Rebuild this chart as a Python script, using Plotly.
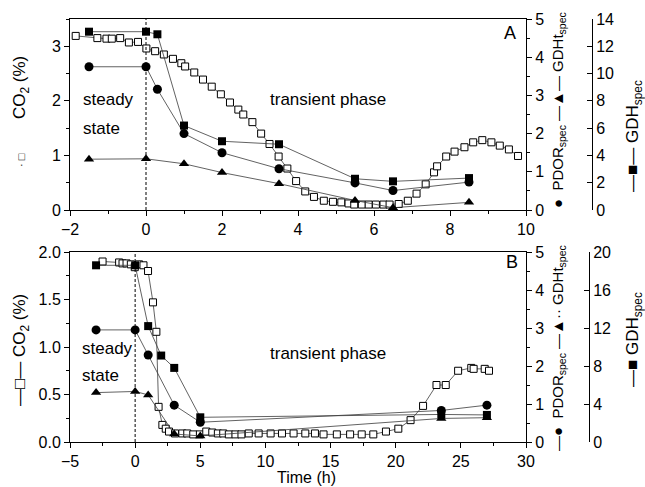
import plotly.graph_objects as go

# ---------------- Panel A (upper) ----------------
t_co2_a = [-1.85, -1.28, -1.04, -0.90, -0.68, -0.45, -0.21, 0.01, 0.24, 0.47, 0.71, 0.93,
           1.03, 1.27, 1.50, 1.73, 1.97, 2.21, 2.43, 2.56, 2.80, 3.03, 3.25, 3.49, 3.72,
           3.95, 4.19, 4.42, 4.68, 4.92, 5.14, 5.33, 5.48, 5.68, 5.86, 6.05, 6.25, 6.41,
           6.65, 6.89, 7.12, 7.36, 7.58, 7.66, 7.90, 8.12, 8.38, 8.61, 8.85, 9.09, 9.31,
           9.55, 9.79]
co2_a = [3.19, 3.15, 3.14, 3.14, 3.15, 3.07, 3.08, 2.96, 2.91, 2.85, 2.77, 2.69,
         2.63, 2.52, 2.39, 2.26, 2.12, 1.97, 1.84, 1.75, 1.61, 1.40, 1.21, 0.98, 0.76,
         0.53, 0.34, 0.24, 0.17, 0.15, 0.14, 0.12, 0.10, 0.10, 0.10, 0.10, 0.10, 0.10,
         0.11, 0.17, 0.30, 0.47, 0.69, 0.80, 0.98, 1.07, 1.15, 1.24, 1.28, 1.24, 1.18,
         1.11, 0.99]

t_gdh_a = [-1.5, 0, 0.3, 1, 2, 3.5, 5.5, 6.5, 8.5]
gdh_a = [13.07, 13.07, 12.88, 6.19, 5.04, 4.82, 2.29, 2.10, 2.34]

t_pdor_a = [-1.5, 0, 0.3, 1, 2, 3.5, 5.5, 6.5, 8.5]
pdor_a = [3.75, 3.75, 3.16, 2.00, 1.50, 1.08, 0.71, 0.51, 0.73]

t_gdht_a = [-1.5, 0, 1, 2, 3.5, 5.5, 6.5, 8.5]
gdht_a = [1.33, 1.34, 1.21, 0.98, 0.69, 0.25, 0.06, 0.20]

# ---------------- Panel B (lower) ----------------
t_co2_b = [-2.5, -1.23, -0.97, -0.66, -0.33, -0.03, 0.30, 0.64, 0.99, 1.37, 1.63, 1.80,
           2.09, 2.35, 2.60, 3.06, 3.62, 4.00, 4.46, 4.97, 5.46, 5.92, 6.35, 6.76, 7.19,
           7.70, 8.16, 8.72, 9.48, 10.4, 11.27, 12.16, 13.06, 13.8, 14.46, 15.48, 16.5,
           17.39, 18.28, 19.25, 20.2, 21.14, 22.1, 23.13, 23.84, 24.79, 25.8, 25.98,
           26.83, 27.16]
co2_b = [1.90, 1.89, 1.88, 1.88, 1.87, 1.84, 1.87, 1.86, 1.80, 1.47, 1.16, 0.37,
         0.18, 0.14, 0.11, 0.09, 0.09, 0.09, 0.08, 0.08, 0.11, 0.10, 0.09, 0.09, 0.08,
         0.08, 0.08, 0.09, 0.09, 0.09, 0.09, 0.09, 0.09, 0.09, 0.08, 0.08, 0.08,
         0.08, 0.08, 0.11, 0.14, 0.23, 0.38, 0.60, 0.60, 0.75, 0.78, 0.77,
         0.77, 0.75]

t_gdh_b = [-3, 0, 1, 2, 3, 5, 23.5, 27]
gdh_b = [18.6, 18.6, 12.2, 9.1, 7.8, 2.6, 2.9, 2.85]

t_pdor_b = [-3, 0, 1, 3, 5, 23.5, 27]
pdor_b = [2.95, 2.95, 2.29, 0.97, 0.52, 0.83, 0.97]

t_gdht_b = [-3, 0, 1, 3, 5, 23.5, 27]
gdht_b = [1.30, 1.33, 1.24, 0.21, 0.16, 0.62, 0.64]

FONT = "Arial, 'Liberation Sans', sans-serif"
W, H = 645, 487
LINE = dict(color="#3a3a3a", width=0.8)


def px(x):
    return x / W


def py(y):
    return 1 - y / H


X0, X1 = px(70), px(526)
A_DOM = [py(210), py(19)]
B_DOM = [py(442), py(252)]

fig = go.Figure()

# open squares: CO2
open_sq = dict(symbol="square", size=7, color="white", line=dict(color="black", width=1))
fig.add_trace(go.Scatter(x=t_co2_a, y=co2_a, mode="lines+markers", line=LINE,
                         marker=open_sq, xaxis="x", yaxis="y"))
fig.add_trace(go.Scatter(x=t_co2_b, y=co2_b, mode="lines+markers", line=LINE,
                         marker=open_sq, xaxis="x2", yaxis="y4"))

circ = dict(symbol="circle", size=9, color="black")
tri = dict(symbol="triangle-up", size=9, color="black")
fsq = dict(symbol="square", size=8, color="black")

fig.add_trace(go.Scatter(x=t_pdor_a, y=pdor_a, mode="lines+markers", line=LINE,
                         marker=circ, xaxis="x", yaxis="y2"))
fig.add_trace(go.Scatter(x=t_gdht_a, y=gdht_a, mode="lines+markers", line=LINE,
                         marker=tri, xaxis="x", yaxis="y2"))
fig.add_trace(go.Scatter(x=t_gdh_a, y=gdh_a, mode="lines+markers", line=LINE,
                         marker=fsq, xaxis="x", yaxis="y3"))

fig.add_trace(go.Scatter(x=t_pdor_b, y=pdor_b, mode="lines+markers", line=LINE,
                         marker=circ, xaxis="x2", yaxis="y5"))
fig.add_trace(go.Scatter(x=t_gdht_b, y=gdht_b, mode="lines+markers", line=LINE,
                         marker=tri, xaxis="x2", yaxis="y5"))
fig.add_trace(go.Scatter(x=t_gdh_b, y=gdh_b, mode="lines+markers", line=LINE,
                         marker=fsq, xaxis="x2", yaxis="y6"))

tickfont = dict(family=FONT, size=16, color="black")
common = dict(showgrid=False, zeroline=False, showline=True, linecolor="black",
              linewidth=1, ticks="outside", ticklen=5, tickwidth=1, tickcolor="black",
              tickfont=tickfont, automargin=False)

fig.update_layout(
    width=W, height=H,
    margin=dict(l=0, r=0, t=0, b=0),
    paper_bgcolor="white", plot_bgcolor="white",
    showlegend=False,
    font=dict(family=FONT, color="black"),
    xaxis=dict(domain=[X0, X1], anchor="y", range=[-2, 10], dtick=2, mirror=True,
               minor=dict(dtick=1, ticks="outside", ticklen=3), **common),
    yaxis=dict(domain=A_DOM, anchor="x", range=[0, 3.5], dtick=1,
               minor=dict(dtick=0.5, ticks="outside", ticklen=3), **common),
    yaxis2=dict(overlaying="y", side="right", anchor="x", range=[0, 5], dtick=1,
                minor=dict(dtick=0.5, ticks="outside", ticklen=3), **common),
    yaxis3=dict(overlaying="y", side="right", anchor="free", position=px(592),
                range=[0, 14], dtick=2, **{**common, "ticks": "inside"}),
    xaxis2=dict(domain=[X0, X1], anchor="y4", range=[-5, 30], dtick=5, mirror=True,
                minor=dict(dtick=2.5, ticks="outside", ticklen=3), **common),
    yaxis4=dict(domain=B_DOM, anchor="x2", range=[0, 2], dtick=0.5, tickformat=".1f",
                minor=dict(dtick=0.25, ticks="outside", ticklen=3), **common),
    yaxis5=dict(overlaying="y4", side="right", anchor="x2", range=[0, 5], dtick=1,
                minor=dict(dtick=0.5, ticks="outside", ticklen=3), **common),
    yaxis6=dict(overlaying="y4", side="right", anchor="free", position=px(589),
                range=[0, 20], dtick=4, **{**common, "ticks": "inside"}),
)

# start of the transient phase (t = 0)
for xr, yr in (("x", "y domain"), ("x2", "y4 domain")):
    fig.add_shape(type="line", xref=xr, yref=yr, x0=0, x1=0, y0=0, y1=1,
                  line=dict(color="black", width=1, dash="3px,2px"))


def label(text, x, y, size=17, angle=0, xanchor="center"):
    fig.add_annotation(text=text, x=px(x), y=py(y), xref="paper", yref="paper",
                       showarrow=False, textangle=angle, xanchor=xanchor,
                       yanchor="middle", font=dict(family=FONT, size=size, color="black"))


# panel texts
label("steady", 81, 100, xanchor="left")
label("state", 81, 128, xanchor="left")
label("transient phase", 268, 100, xanchor="left")
label("A", 510, 33, size=18)
label("steady", 80, 348, xanchor="left")
label("state", 80, 375, xanchor="left")
label("transient phase", 268, 353, xanchor="left")
label("B", 512, 262, size=18)

# axis titles
label("CO<sub>2</sub> (%)", 21, 88, angle=-90)
label("\u00b7 \u25a1", 21, 160, size=11, angle=-90)
label("\u2014\u25a1\u2014 CO<sub>2</sub> (%)", 21, 350, angle=-90)

label("\u25cf  PDOR<sub>spec</sub> \u2014\u25b2\u2014 GDHt<sub>spec</sub>", 558, 110,
      size=15, angle=-90)
label("\u2014\u25a0\u2014 GDH<sub>spec</sub>", 634, 136, size=17, angle=-90)
label("\u2014\u25cf  PDOR<sub>spec</sub> \u2014\u25b2\u00b7\u00b7 GDHt<sub>spec</sub>", 558, 348,
      size=15, angle=-90)
label("\u2014\u25a0 GDH<sub>spec</sub>", 634, 340, size=17, angle=-90)

label("Time (h)", 306, 477, size=16)

fig.write_html("out.html")
